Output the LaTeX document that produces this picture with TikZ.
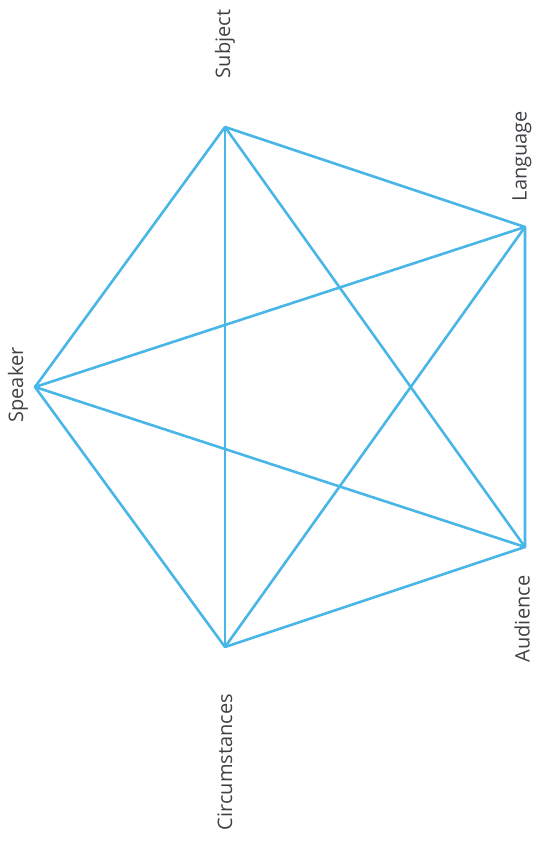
\documentclass[tikz,border=0pt]{standalone}
\usepackage{fontspec}
\setmainfont{Open Sans}
\usetikzlibrary{positioning}
\definecolor{edgeblue}{RGB}{72,182,230}
\definecolor{labelgray}{RGB}{62,66,70}

\begin{document}
\begin{tikzpicture}[
    x=1pt, y=-1pt,
    font=\fontsize{20}{24}\selectfont,
    vertex/.style={circle, inner sep=0pt, minimum size=0pt},
    label/.style ={text=labelgray, rotate=90, inner sep=0pt},
    edge/.style  ={draw=edgeblue, line width=2.6pt, line join=round},
]
\useasboundingbox (0,0) rectangle (542,843);
% corners of the pentagon
\node[vertex] (subj) at (225,127) {};
\node[vertex] (lang) at (525,227) {};
\node[vertex] (aud)  at (525,547) {};
\node[vertex] (circ) at (225,647) {};
\node[vertex] (spk)  at (35,387)  {};
% names
\node[label] (subjl) at (225,44)  {Subject};
\node[label] (langl) at (522,156) {Language};
\node[label] (audl)  at (522,619) {Audience};
\node[label] (circl) at (225,762) {Circumstances};
\node[label] (spkl)  at (18,385)  {Speaker};
% sides
\draw[edge] (subj.center) -- (lang.center) -- (aud.center) -- (circ.center) -- (spk.center) -- cycle;
% diagonals
\draw[edge] (subj.center) -- (circ.center);
\draw[edge] (subj.center) -- (aud.center);
\draw[edge] (spk.center)  -- (lang.center);
\draw[edge] (spk.center)  -- (aud.center);
\draw[edge] (lang.center) -- (circ.center);
\end{tikzpicture}
\end{document}
